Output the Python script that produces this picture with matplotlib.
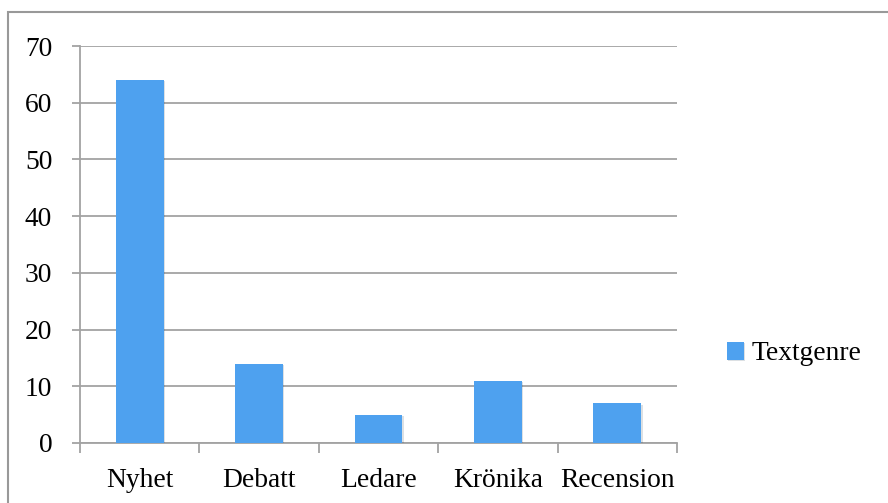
import numpy as np
import matplotlib.pyplot as plt
from matplotlib.patches import Rectangle
import matplotlib.patheffects as pe

categories = ['Nyhet', 'Debatt', 'Ledare', 'Krönika', 'Recension']
values = [64, 14, 5, 11, 7]
series_name = 'Textgenre'
yticks = [0, 10, 20, 30, 40, 50, 60, 70]

plt.rcParams['font.family'] = ['Liberation Serif', 'DejaVu Serif']

W, H = 888, 503
fig = plt.figure(figsize=(W / 100, H / 100), dpi=100)
ax = fig.add_axes([80 / W, 1 - 443 / H, (677 - 80) / W, (443 - 46) / H])

grey = '#a3a3a3'
bar_col = '#4ea1ef'
fs = 19.8

x = np.arange(len(categories))
bars = ax.bar(x, values, width=0.4, color=bar_col, zorder=3, label=series_name)
for b in bars:
    b.set_path_effects([pe.SimplePatchShadow(offset=(1, -1), alpha=0.15), pe.Normal()])

ax.set_xlim(-0.5, len(categories) - 0.5)
ax.set_ylim(0, 70)
ax.set_yticks(yticks)
ax.yaxis.grid(True, color=grey, lw=1.3, zorder=0)

ax.set_xticks(x)
ax.set_xticklabels(categories)
ax.set_xticks(np.arange(len(categories) + 1) - 0.5, minor=True)
ax.tick_params(axis='x', which='major', length=0, pad=18, labelsize=fs)
ax.tick_params(axis='x', which='minor', length=7, width=1.3, color=grey)
ax.tick_params(axis='y', length=6, width=1.3, color=grey, pad=14, labelsize=fs)

for s in ['top', 'right']:
    ax.spines[s].set_visible(False)
for s in ['left', 'bottom']:
    ax.spines[s].set_color(grey)
    ax.spines[s].set_linewidth(1.3)

# outer chart border (right/bottom edges fall outside the image)
fig.patches.append(Rectangle((8 / W, -0.1), 1.2, 1 - 12 / H + 0.1, transform=fig.transFigure,
                             fill=False, edgecolor='#999999', lw=1.5))

ax.legend(loc='center left', bbox_to_anchor=(727 / W, 1 - 354 / H),
          bbox_transform=fig.transFigure, frameon=False, fontsize=fs,
          handlelength=0.6, handleheight=0.6, handletextpad=0.3,
          borderpad=0, borderaxespad=0)

fig.savefig('out.png', dpi=100)
